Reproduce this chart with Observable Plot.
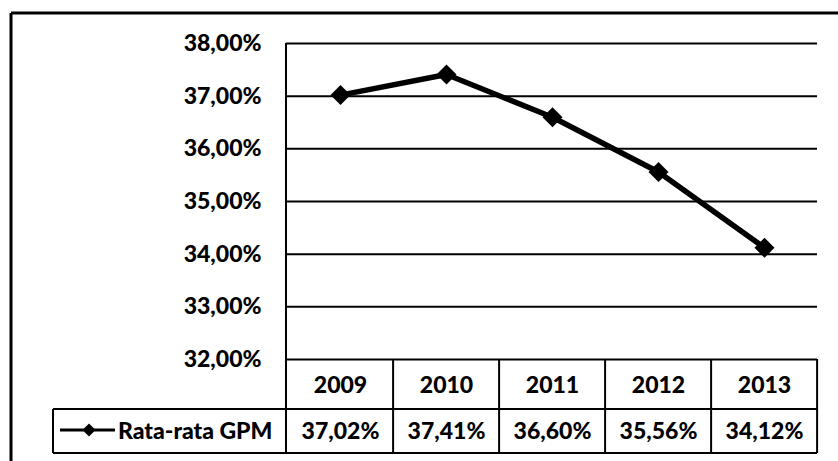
<!DOCTYPE html>
<html>
<head>
<meta charset="utf-8">
<script src="https://cdn.jsdelivr.net/npm/d3@7"></script>
<script src="https://cdn.jsdelivr.net/npm/@observablehq/plot@0.6"></script>
<style>
  html, body { margin: 0; padding: 0; background: #fff; }
  svg { display: block; }
</style>
</head>
<body>
<div id="chart"></div>
<script>
const years = ["2009", "2010", "2011", "2012", "2013"];
const gpm = [37.02, 37.41, 36.60, 35.56, 34.12];
const yTicks = [32, 33, 34, 35, 36, 37, 38];
const seriesName = "Rata-rata GPM";

const data = years.map((y, i) => ({year: y, gpm: gpm[i]}));
const pct = v => v.toFixed(2).replace(".", ",") + "%";
const valueByYear = new Map(data.map(d => [d.year, d.gpm]));

const FONT = "Lato, 'Open Sans', sans-serif";
const WEIGHT = 900;

const plot = Plot.plot({
  width: 838,
  height: 461,
  marginLeft: 286,
  marginRight: 21,
  marginTop: 43,
  marginBottom: 102,
  style: {fontFamily: FONT, fontSize: "23px", fontWeight: WEIGHT, color: "#000", background: "#fff", overflow: "visible"},
  x: {type: "point", domain: years, padding: 0.5, label: null},
  y: {domain: [32, 38], label: null},
  marks: [
    Plot.ruleY(yTicks, {stroke: "#000", strokeWidth: 2}),
    Plot.axisY({ticks: yTicks, tickSize: 0, tickPadding: 25, tickFormat: pct, label: null, fill: "#000"}),
    Plot.axisX({tickSize: 0, tickPadding: 17, tickFormat: d => d, label: null, fill: "#000"}),
    Plot.axisX({tickSize: 0, tickPadding: 63, tickFormat: d => pct(valueByYear.get(d)), label: null, fill: "#000"}),
    Plot.line(data, {x: "year", y: "gpm", stroke: "#000", strokeWidth: 5.5, strokeLinejoin: "round"}),
    Plot.dot(data, {x: "year", y: "gpm", symbol: "diamond2", r: 9, fill: "#000", stroke: "none"})
  ]
});

document.getElementById("chart").appendChild(plot);

// Table borders, outer frame and legend, built from the plot's own scales
const svg = d3.select(plot);
const xs = plot.scale("x");
const ys = plot.scale("y");
const step = (xs.range[1] - xs.range[0]) / (years.length - 1 + 2 * xs.padding);
const left = xs.range[0];
const right = xs.range[1];
const tableTop = ys.apply(32);
const rowH1 = 50;
const rowH2 = 44;
const rowMid = tableTop + rowH1;
const tableBottom = rowMid + rowH2;
const legendLeft = 53;

const g = svg.append("g").attr("stroke", "#000").attr("stroke-width", 2).attr("fill", "none");
// outer chart border (top and left sides visible)
g.append("line").attr("x1", 11).attr("x2", 838).attr("y1", 13).attr("y2", 13).attr("stroke-width", 3);
g.append("line").attr("x1", 11).attr("x2", 11).attr("y1", 13).attr("y2", 461).attr("stroke-width", 3);
// plot area left border, continuing down through the table
g.append("line").attr("x1", left).attr("x2", left).attr("y1", ys.apply(38)).attr("y2", tableBottom);
// column separators and right border
years.forEach((yr) => {
  const xb = xs.apply(yr) + step / 2;
  g.append("line").attr("x1", xb).attr("x2", xb).attr("y1", tableTop).attr("y2", tableBottom);
});
// horizontal table lines
g.append("line").attr("x1", legendLeft).attr("x2", right).attr("y1", rowMid).attr("y2", rowMid);
g.append("line").attr("x1", legendLeft).attr("x2", right).attr("y1", tableBottom).attr("y2", tableBottom);
g.append("line").attr("x1", legendLeft).attr("x2", legendLeft).attr("y1", rowMid).attr("y2", tableBottom);

// legend key in the table
const ly = rowMid + rowH2 / 2;
const lg = svg.append("g");
lg.append("line").attr("x1", 60).attr("x2", 115).attr("y1", ly - 1).attr("y2", ly - 1)
  .attr("stroke", "#000").attr("stroke-width", 3);
lg.append("path").attr("d", d3.symbol(d3.symbolDiamond2, 110)())
  .attr("transform", `translate(89,${ly - 1})`).attr("fill", "#000");
lg.append("text").attr("x", 118).attr("y", ly).attr("dy", "0.35em")
  .attr("text-anchor", "start")
  .attr("fill", "#000").attr("font-family", FONT).attr("font-size", 23).attr("font-weight", WEIGHT)
  .text(seriesName);
</script>
</body>
</html>
